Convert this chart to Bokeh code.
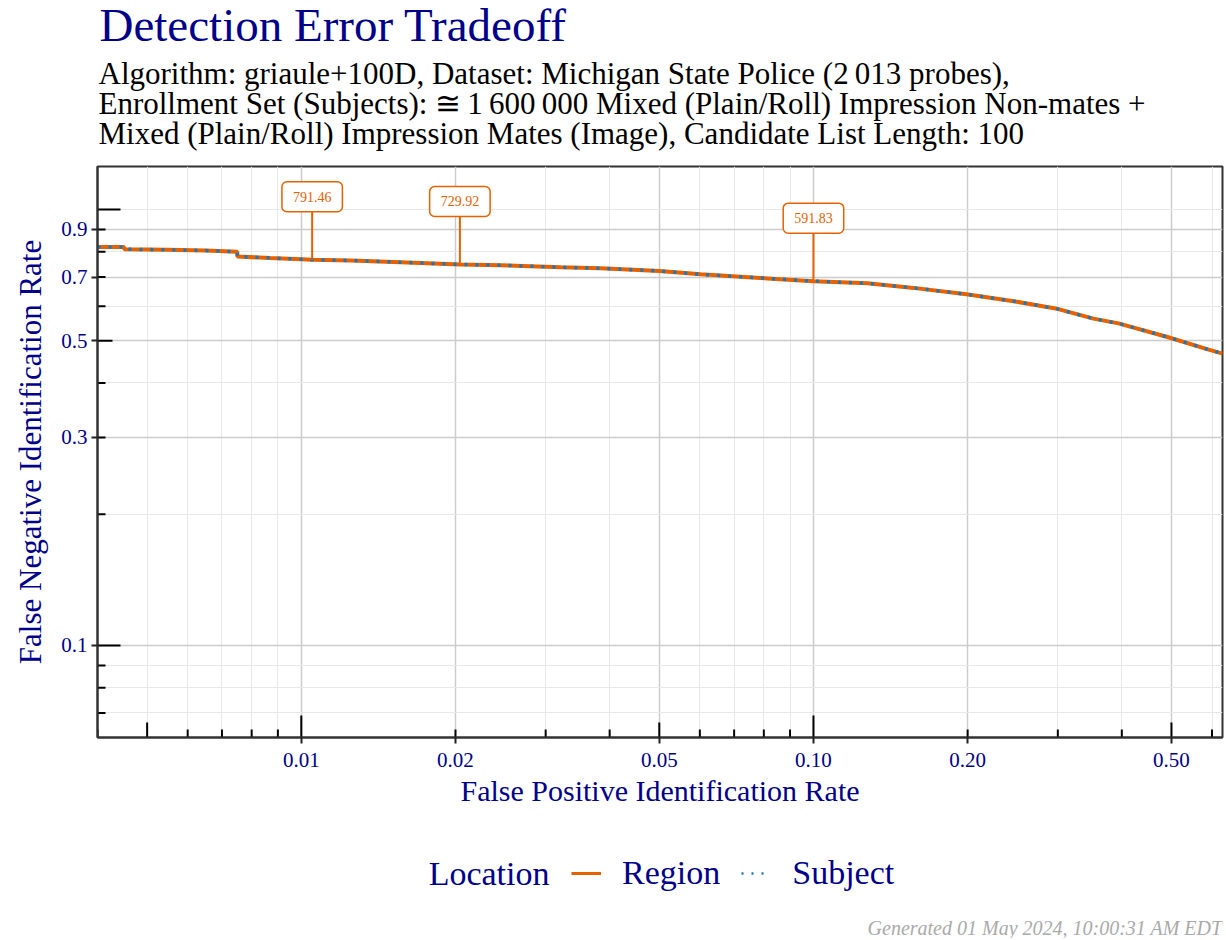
import math
from bokeh.plotting import figure
from bokeh.layouts import column
from bokeh.models import FixedTicker, Label, Legend, LegendItem, Range1d
from bokeh.core.properties import value
from bokeh.embed import file_html
from bokeh.resources import INLINE

# ---------------- data ----------------
fpir = [0.0040, 0.00451, 0.00451, 0.0055, 0.0065, 0.0075, 0.0075, 0.0087, 0.0100,
        0.0105, 0.0125, 0.0156, 0.0204, 0.0245, 0.0321, 0.0384, 0.0500, 0.0602,
        0.0813, 0.1000, 0.1275, 0.1568, 0.1990, 0.2460, 0.2970, 0.3520, 0.3940,
        0.4910, 0.5910, 0.6300]
fnir = [0.820, 0.820, 0.811, 0.808, 0.805, 0.800, 0.780, 0.774, 0.769,
        0.767, 0.764, 0.757, 0.748, 0.745, 0.737, 0.733, 0.723, 0.710,
        0.695, 0.685, 0.677, 0.661, 0.639, 0.616, 0.593, 0.562, 0.548,
        0.510, 0.477, 0.467]

ann_fpir = [0.0105, 0.0204, 0.1000]
ann_fnir = [0.767, 0.748, 0.685]
ann_text = ["791.46", "729.92", "591.83"]

series_names = ["Region", "Subject"]
legend_title = "Location"

x_major = [0.01, 0.02, 0.05, 0.10, 0.20, 0.50]
x_major_labels = ["0.01", "0.02", "0.05", "0.10", "0.20", "0.50"]
x_minor = [0.004, 0.005, 0.006, 0.007, 0.008, 0.009, 0.03, 0.04, 0.06, 0.07,
           0.08, 0.09, 0.3, 0.4, 0.6]
y_major = [0.1, 0.3, 0.5, 0.7, 0.9]
y_major_labels = ["0.1", "0.3", "0.5", "0.7", "0.9"]
y_minor = [0.07, 0.08, 0.09, 0.2, 0.4, 0.6, 0.8, 1.0]

x_tick_long = [0.01, 0.1]
x_tick_mid = [0.005, 0.05, 0.5]
x_tick_short = [0.004, 0.006, 0.007, 0.008, 0.009, 0.02, 0.03, 0.04, 0.06,
                0.07, 0.08, 0.09, 0.2, 0.3, 0.4, 0.6]
y_tick_long = [0.1, 1.0]
y_tick_mid = [0.5]
y_tick_short = [0.07, 0.08, 0.09, 0.2, 0.3, 0.4, 0.6, 0.7, 0.8, 0.9]

X_RANGE = (0.004, 0.629)
Y_RANGE = (0.0615, 1.255)

title_text = "Detection Error Tradeoff"
subtitle_lines = [
    "Algorithm: griaule+100D, Dataset: Michigan State Police (2\u2009013 probes),",
    "Enrollment Set (Subjects): \u2245\u20091\u2009600\u2009000 Mixed (Plain/Roll) Impression Non-mates +",
    "Mixed (Plain/Roll) Impression Mates (Image), Candidate List Length: 100",
]
footer_text = "Generated 01 May 2024, 10:00:31 AM EDT"

# ---------------- style ----------------
FONT = "Liberation Serif"
ORANGE = "#E66100"
BLUE = "#1F78B4"
NAVY = "#00008B"
W = 1226
LEFT, RIGHT = 97, 4


def blank(h):
    # page-pixel coordinate canvas whose frame matches the main plot's frame columns
    f = figure(width=W, height=h, x_range=Range1d(LEFT, W - RIGHT),
               y_range=Range1d(h, 0), title=None,
               output_backend="svg", toolbar_location=None,
               x_axis_location=None, y_axis_location=None,
               min_border_left=LEFT, min_border_right=RIGHT,
               min_border_top=0, min_border_bottom=0)
    f.grid.visible = False
    f.outline_line_color = None
    f.background_fill_color = "white"
    f.border_fill_color = "white"
    return f


# ---------------- header ----------------
head = blank(160)
head.text(x=[99], y=[24], text=[title_text], text_font=value(FONT),
          text_font_size=value("47px"), text_color=NAVY,
          text_baseline="middle")
head.text(x=[98, 98, 98], y=[73, 103, 133], text=subtitle_lines,
          text_font=value(FONT), text_font_size=value("31px"),
          text_color="black", text_baseline="middle")

# ---------------- main plot ----------------
p = figure(width=W, height=660, x_axis_type="log", y_axis_type="log",
           x_range=Range1d(*X_RANGE), y_range=Range1d(*Y_RANGE), title=None,
           output_backend="svg", toolbar_location=None,
           min_border_left=LEFT, min_border_right=RIGHT, min_border_top=6,
           min_border_bottom=83)
p.background_fill_color = "white"
p.border_fill_color = "white"
p.outline_line_color = "#333333"
p.outline_line_width = 2

for ax, major, labels, minor in ((p.xaxis, x_major, x_major_labels, x_minor),
                                 (p.yaxis, y_major, y_major_labels, y_minor)):
    ax.ticker = FixedTicker(ticks=major, minor_ticks=minor)
    ax.major_label_overrides = dict(zip(major, labels))
    ax.major_tick_in = 0
    ax.major_tick_out = 6
    ax.major_tick_line_color = "#222222"
    ax.major_tick_line_width = 2
    ax.minor_tick_line_color = None
    ax.axis_line_color = "#333333"
    ax.axis_line_width = 2
    ax.major_label_text_font = FONT
    ax.major_label_text_font_size = "21px"
    ax.major_label_text_color = NAVY
    ax.axis_label_text_font = FONT
    ax.axis_label_text_font_style = "normal"
    ax.axis_label_text_color = NAVY

p.xaxis.axis_label = "False Positive Identification Rate"
p.yaxis.axis_label = "False Negative Identification Rate"
p.xaxis.axis_label_text_font_size = "30px"
p.yaxis.axis_label_text_font_size = "31px"
p.xaxis.major_label_standoff = 9
p.xaxis.axis_label_standoff = 4
p.yaxis.major_label_standoff = 4
p.yaxis.axis_label_standoff = 10

for g in (p.xgrid, p.ygrid):
    g.grid_line_color = "#cccccc"
    g.grid_line_width = 1.5
    g.minor_grid_line_color = "#e8e8e8"
    g.minor_grid_line_width = 1

# inner log ticks
for xs, ln in ((x_tick_long, 22), (x_tick_mid, 15), (x_tick_short, 8)):
    p.ray(x=xs, y=[Y_RANGE[0]] * len(xs), length=ln, length_units="screen",
          angle=math.pi / 2, line_color="black", line_width=2)
for ys, ln in ((y_tick_long, 23), (y_tick_mid, 15), (y_tick_short, 8)):
    p.ray(x=[X_RANGE[0]] * len(ys), y=ys, length=ln, length_units="screen",
          angle=0, line_color="black", line_width=2)

# curves
p.line(fpir, fnir, line_color=ORANGE, line_width=4)
p.line(fpir, fnir, line_color=BLUE, line_width=3.5, line_dash="3 8")

# annotations
p.ray(x=ann_fpir, y=ann_fnir, length=48, length_units="screen",
      angle=math.pi / 2, line_color=ORANGE, line_width=2)
for fx, fy, t in zip(ann_fpir, ann_fnir, ann_text):
    p.add_layout(Label(x=fx, y=fy, text=t, y_offset=63, text_align="center",
                       text_baseline="middle", text_font=FONT,
                       text_font_size="14px", text_color=ORANGE,
                       background_fill_color="white", border_line_color=ORANGE,
                       border_line_width=1.5, border_radius=5, padding=(11, 10)))

# ---------------- footer / legend ----------------
foot = blank(118)
foot.text(x=[549], y=[53], text=[legend_title], text_font=value(FONT),
          text_font_size=value("34px"), text_color=NAVY, text_align="right",
          text_baseline="middle")
nan = float("nan")
lr = foot.line(x=[nan, nan], y=[nan, nan], line_color=ORANGE, line_width=3)
ls = foot.line(x=[nan, nan], y=[nan, nan], line_color=BLUE, line_width=2.5,
               line_dash="2 8")
legend = Legend(items=[LegendItem(label=series_names[0], renderers=[lr]),
                       LegendItem(label=series_names[1], renderers=[ls])],
                orientation="horizontal", location=(474, 46),
                label_text_font=FONT, label_text_font_size="34px",
                label_text_color=NAVY, glyph_width=30, glyph_height=30,
                label_height=30, label_standoff=21, spacing=21, padding=0,
                margin=0, border_line_color=None, background_fill_alpha=0)
foot.add_layout(legend, "center")
foot.text(x=[1222], y=[107], text=[footer_text], text_font=value(FONT),
          text_font_size=value("20px"), text_font_style="italic",
          text_color="#aaaaaa", text_align="right", text_baseline="middle")

layout = column(head, p, foot, spacing=0)
open("out.html", "w").write(file_html(layout, INLINE))
